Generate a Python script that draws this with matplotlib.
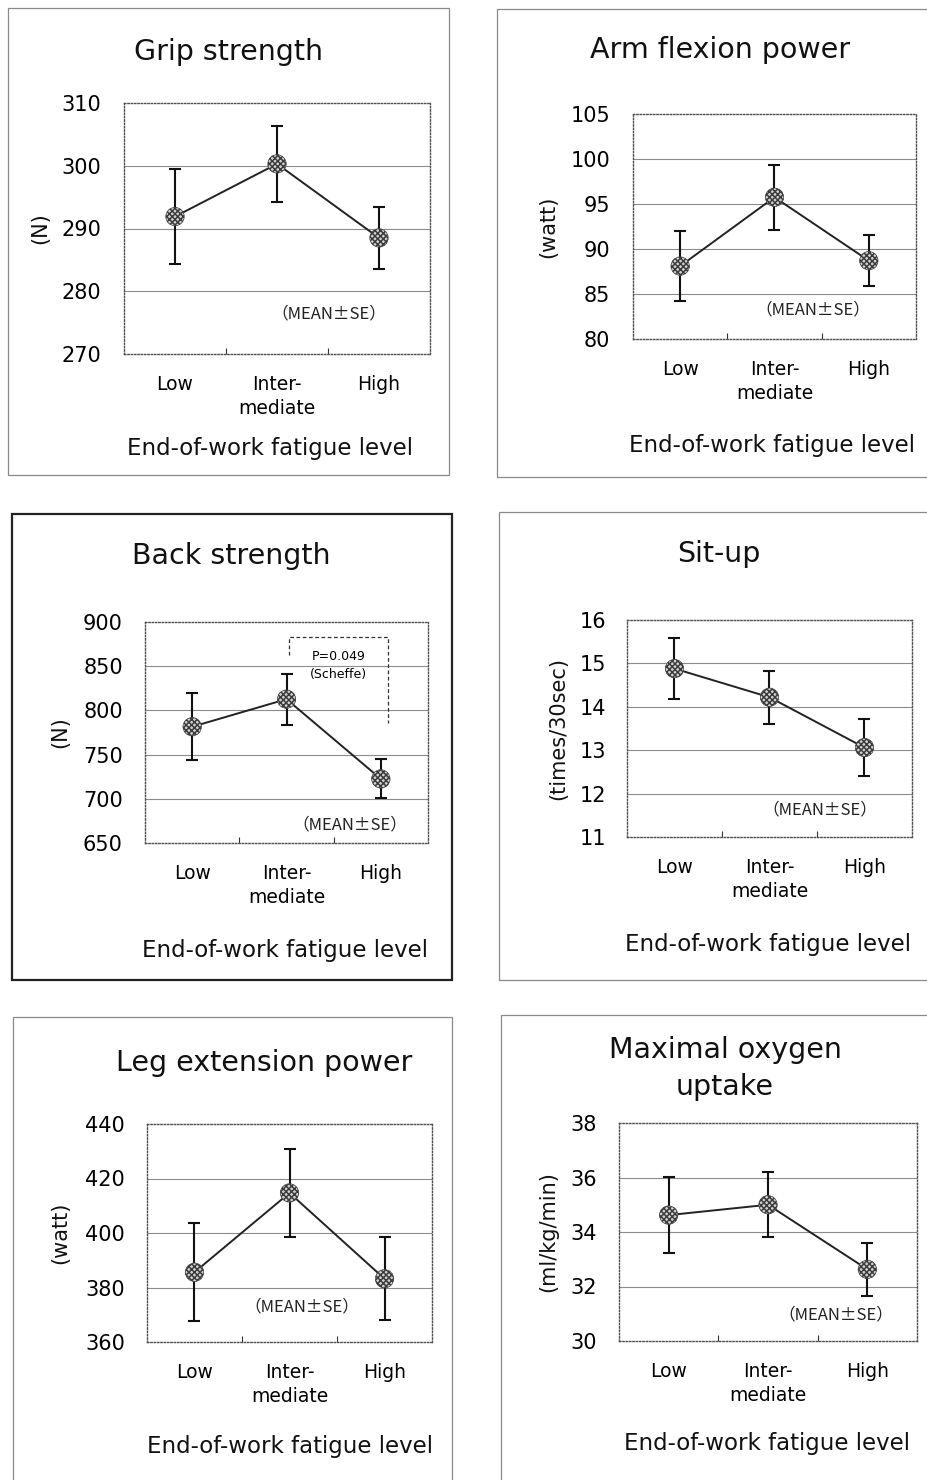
import numpy as np
import matplotlib
matplotlib.use("Agg")
import matplotlib.pyplot as plt
from matplotlib.patches import Rectangle
from matplotlib.lines import Line2D

# ---- data -------------------------------------------------------------
categories = ["Low", "Inter-\nmediate", "High"]
x_title = "End-of-work fatigue level"

titles = ["Grip strength", "Arm flexion power", "Back strength",
          "Sit-up", "Leg extension power", "Maximal oxygen\nuptake"]
units = ["(N)", "(watt)", "(N)", "(times/30sec)", "(watt)", "(ml/kg/min)"]

grip_mean = [291.9, 300.3, 288.5]
grip_se = [7.6, 6.0, 4.9]
arm_mean = [88.1, 95.75, 88.7]
arm_se = [3.85, 3.6, 2.85]
back_mean = [781.5, 812.7, 722.5]
back_se = [38.0, 29.0, 22.0]
situp_mean = [14.88, 14.22, 13.06]
situp_se = [0.71, 0.61, 0.66]
leg_mean = [385.6, 414.7, 383.2]
leg_se = [18.0, 16.3, 15.2]
vo2_mean = [34.62, 35.0, 32.63]
vo2_se = [1.39, 1.2, 0.98]

grip_ticks = [270, 280, 290, 300, 310]
arm_ticks = [80, 85, 90, 95, 100, 105]
back_ticks = [650, 700, 750, 800, 850, 900]
situp_ticks = [11, 12, 13, 14, 15, 16]
leg_ticks = [360, 380, 400, 420, 440]
vo2_ticks = [30, 32, 34, 36, 38]

note_text = "（MEAN±SE）"
p_text = "P=0.049"
test_text = "(Scheffe)"

means = [grip_mean, arm_mean, back_mean, situp_mean, leg_mean, vo2_mean]
ses = [grip_se, arm_se, back_se, situp_se, leg_se, vo2_se]
ticks = [grip_ticks, arm_ticks, back_ticks, situp_ticks, leg_ticks, vo2_ticks]

# ---- layout (pixel boxes on a 928 x 1480 canvas) ----------------------
W, H = 928, 1480
frames = [(8, 8, 449, 475), (497, 9, 940, 477),
          (12, 514, 452, 980), (499, 512, 940, 980),
          (13, 1017, 452, 1490), (501, 1015, 940, 1490)]
axes_px = [(124, 103, 430, 354), (633, 114, 916, 339),
           (145, 622, 428, 843), (627, 620, 912, 837),
           (147, 1124, 432, 1342), (619, 1123, 917, 1341)]
title_pos = [(229, 60), (720, 58), (231, 564), (719, 562),
             (264, 1071), (725, 1095)]
xlabel_pos = [(270, 455), (772, 452), (285, 957), (768, 951),
              (290, 1453), (767, 1450)]
ylabel_x = [40, 548, 60, 558, 60, 548]
tick_pad = [16.5, 16.5, 16, 15, 16, 16]
note_pos = [(2.51, 276.4), (2.41, 83.2), (2.67, 671), (2.53, 11.63),
            (2.13, 372.9), (2.68, 30.97)]

plt.rcParams["font.family"] = ["DejaVu Sans"]
plt.rcParams["hatch.linewidth"] = 1.1

fig = plt.figure(figsize=(W / 100, H / 100), dpi=100)
fig.patch.set_facecolor("white")


def fx(x):
    return x / W


def fy(y):
    return 1 - y / H


for i in range(6):
    # panel frame
    x0, y0, x1, y1 = frames[i]
    heavy = (i == 2)
    fig.add_artist(Rectangle((fx(x0), fy(y1)), fx(x1) - fx(x0), fy(y0) - fy(y1),
                             transform=fig.transFigure, fill=False,
                             edgecolor="#222222" if heavy else "#8a8a8a",
                             linewidth=1.6 if heavy else 0.9, zorder=0))

    ax0, ay0, ax1, ay1 = axes_px[i]
    ax = fig.add_axes([fx(ax0), fy(ay1), fx(ax1) - fx(ax0), fy(ay0) - fy(ay1)])
    tk = ticks[i]
    ax.set_xlim(0.5, 3.5)
    ax.set_ylim(tk[0], tk[-1])

    for s in ax.spines.values():
        s.set_linestyle((0, (1.0, 1.4)))
        s.set_color("#505050")
        s.set_linewidth(1.0)

    for v in tk[1:-1]:
        ax.axhline(v, color="#8c8c8c", linewidth=0.8, zorder=1)

    ax.set_yticks(tk)
    ax.set_yticklabels([str(v) for v in tk], fontsize=15)
    ax.tick_params(axis="y", length=0, pad=tick_pad[i])

    xs = np.arange(1, 4)
    ax.set_xticks(xs)
    ax.set_xticklabels(categories, fontsize=13.5, linespacing=1.35)
    ax.set_xticks([1.5, 2.5], minor=True)
    ax.tick_params(axis="x", which="major", length=0, pad=15)
    ax.tick_params(axis="x", which="minor", direction="in", length=4,
                   width=0.8, color="#333333")

    m = means[i]
    e = ses[i]
    ax.plot(xs, m, color="#222222", linewidth=1.4, zorder=3)
    ax.errorbar(xs, m, yerr=e, fmt="none", ecolor="#111111", elinewidth=1.5,
                capsize=4, capthick=1.5, zorder=4)
    ax.scatter(xs, m, s=175, marker="o", facecolor="#d4d4d4",
               edgecolor="#3c3c3c", hatch="xxxxxx", linewidths=0.5, zorder=5)

    nx, ny = note_pos[i]
    ax.text(nx, ny, note_text, ha="center", va="center", fontsize=12,
            family=["Noto Sans CJK JP", "DejaVu Sans"], color="#222222")

    tx, ty = title_pos[i]
    fig.text(fx(tx), fy(ty), titles[i], ha="center", va="baseline",
             fontsize=20.5, color="#111111", linespacing=1.4)
    lx, ly = xlabel_pos[i]
    fig.text(fx(lx), fy(ly), x_title, ha="center", va="baseline",
             fontsize=16.5, color="#111111")
    fig.text(fx(ylabel_x[i]), fy((ay0 + ay1) / 2), units[i], ha="center",
             va="center", rotation=90, fontsize=15, color="#111111")

    if i == 2:
        # Scheffe comparison bracket between Intermediate and High
        bx = [2.03, 2.03, 3.08, 3.08]
        by = [863.0, 882.6, 882.6, 786.0]
        ax.add_line(Line2D(bx, by, color="#333333", linewidth=0.9,
                           linestyle=(0, (3, 2)), zorder=2))
        ax.text(2.55, 861, p_text, ha="center", va="center", fontsize=9)
        ax.text(2.55, 840.6, test_text, ha="center", va="center", fontsize=9)

fig.savefig("out.png", dpi=100, facecolor="white")
